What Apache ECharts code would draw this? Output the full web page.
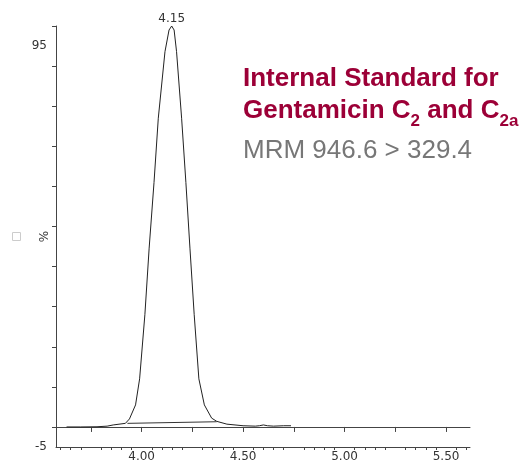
<!DOCTYPE html>
<html>
<head>
<meta charset="utf-8">
<script src="https://cdn.jsdelivr.net/npm/echarts@6/dist/echarts.min.js"></script>
<style>
  html, body { margin: 0; padding: 0; background: #fff; }
  #main { width: 527px; height: 467px; }
</style>
</head>
<body>
<div id="main"></div>
<script>
// chromatogram trace (retention time, min / relative intensity, %)
var traceTimes = [3.63, 3.70, 3.78, 3.83, 3.86, 3.92, 3.94, 3.97, 3.99, 4.016, 4.037, 4.061, 4.082, 4.115, 4.135, 4.148,
    4.16, 4.172, 4.197, 4.218, 4.238, 4.259, 4.282, 4.309, 4.345, 4.37, 4.42, 4.50, 4.56, 4.58, 4.60, 4.62, 4.65, 4.70, 4.736];
var traceValues = [0.0, 0.0, 0.05, 0.2, 0.5, 0.9, 2.0, 5.5, 12, 28, 44.6, 61, 77, 93.6, 99, 100,
    99, 93.6, 77, 61, 44.6, 28, 12, 5.5, 2.2, 1.4, 0.7, 0.3, 0.2, 0.3, 0.5, 0.3, 0.2, 0.3, 0.3];

// integration baseline under the peak
var baseTimes = [3.93, 4.37];
var baseValues = [0.9, 1.3];

// peak apex label
var peakTime = 4.148;
var peakValue = 100;
var peakText = '4.15';

// axis ticks and labels
var xMajorTicks = [3.75, 4.00, 4.25, 4.50, 4.75, 5.00, 5.25, 5.50];
var xMinorTicks = [3.60, 3.65, 3.70, 3.80, 3.85, 3.90, 3.95, 4.05, 4.10, 4.15, 4.20, 4.30, 4.35, 4.40, 4.45,
    4.55, 4.60, 4.65, 4.70, 4.80, 4.85, 4.90, 4.95, 5.05, 5.10, 5.15, 5.20, 5.30, 5.35, 5.40, 5.45, 5.55, 5.60];
var xLabels = [4.00, 4.50, 5.00, 5.50];
var yTicks = [0, 10, 20, 30, 40, 50, 60, 70, 80, 90, 100];
var yLabels = [-5, 95];

function pairs(xs, ys) {
    var out = [];
    for (var i = 0; i < xs.length; i++) out.push([xs[i], ys[i]]);
    return out;
}

var axisColor = '#444';
var labelFont = 'DejaVu Sans';
var red = '#9c0037';

var myChart = echarts.init(document.getElementById('main'));
var option = {
    animation: false,
    title: {
        left: 243,
        top: 66,
        padding: 0,
        text: '{b1|Internal Standard for}\n{b2|Gentamicin C}{s|2}{b2| and C}{s|2a}\n{g|MRM 946.6 > 329.4}',
        textStyle: {
            rich: {
                b1: { fontFamily: 'Liberation Sans', fontSize: 26, fontWeight: 'bold', color: red, lineHeight: 25 },
                b2: { fontFamily: 'Liberation Sans', fontSize: 26, fontWeight: 'bold', color: red, lineHeight: 39 },
                s: { fontFamily: 'Liberation Sans', fontSize: 17, fontWeight: 'bold', color: red, lineHeight: 39, verticalAlign: 'bottom' },
                g: { fontFamily: 'Liberation Sans', fontSize: 26, fontWeight: 'normal', color: '#777', lineHeight: 41 }
            }
        }
    },
    graphic: [{
        type: 'rect',
        left: 12,
        top: 232,
        shape: { width: 8, height: 8 },
        style: { fill: '#fff', stroke: '#ccc', lineWidth: 1 }
    }],
    grid: { left: 56, right: 57, top: 26, bottom: 20, containLabel: false },
    xAxis: [{
        type: 'value',
        position: 'bottom',
        min: 3.578,
        max: 5.618,
        splitLine: { show: false },
        axisLine: { show: true, lineStyle: { color: axisColor, width: 1 } },
        axisTick: { show: true, length: 5, customValues: xMajorTicks, lineStyle: { color: axisColor } },
        axisLabel: {
            customValues: xLabels,
            margin: 4,
            fontFamily: labelFont,
            fontSize: 12,
            color: '#333',
            formatter: function (v) { return v.toFixed(2); }
        }
    }, {
        type: 'value',
        position: 'bottom',
        offset: 0,
        min: 3.578,
        max: 5.618,
        splitLine: { show: false },
        axisLine: { show: true, lineStyle: { color: axisColor, width: 1 } },
        axisTick: { show: true, length: 3, customValues: xMinorTicks, lineStyle: { color: axisColor } },
        axisLabel: { show: false }
    }],
    yAxis: {
        type: 'value',
        min: -5,
        max: 100,
        name: '%',
        nameLocation: 'middle',
        nameRotate: 90,
        nameGap: 5,
        nameMoveOverlap: false,
        nameTextStyle: { fontFamily: labelFont, fontSize: 12, color: '#333' },
        splitLine: { show: false },
        axisLine: { show: true, lineStyle: { color: axisColor, width: 1 } },
        axisTick: { show: true, length: 4, customValues: yTicks, lineStyle: { color: axisColor } },
        axisLabel: {
            customValues: yLabels,
            margin: 9,
            fontFamily: labelFont,
            fontSize: 12,
            color: '#333'
        }
    },
    series: [{
        name: 'trace',
        type: 'line',
        data: pairs(traceTimes, traceValues),
        showSymbol: false,
        symbol: 'none',
        lineStyle: { color: '#222', width: 1 },
        markPoint: {
            symbol: 'circle',
            symbolSize: 0,
            data: [{ coord: [peakTime, peakValue], value: peakText }],
            label: {
                show: true,
                position: 'top',
                distance: 1,
                fontFamily: labelFont,
                fontSize: 12,
                color: '#333',
                formatter: '{c}'
            }
        }
    }, {
        name: 'baseline',
        type: 'line',
        xAxisIndex: 1,
        data: pairs(baseTimes, baseValues),
        showSymbol: false,
        symbol: 'none',
        lineStyle: { color: '#333', width: 1 }
    }]
};
myChart.setOption(option);
</script>
</body>
</html>
